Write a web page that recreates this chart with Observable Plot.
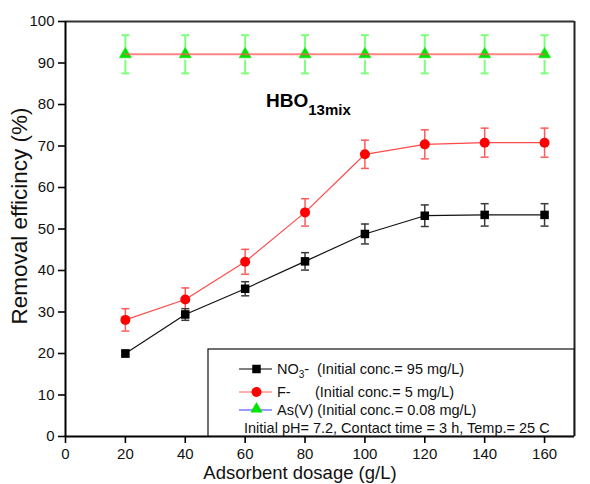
<!DOCTYPE html>
<html>
<head>
<meta charset="utf-8">
<script src="https://cdn.jsdelivr.net/npm/d3@7"></script>
<script src="https://cdn.jsdelivr.net/npm/@observablehq/plot@0.6"></script>
<style>
  html, body { margin: 0; padding: 0; background: #fff; }
  #chart { position: relative; width: 590px; height: 484px; }
  svg { font-family: "Liberation Sans", Arial, sans-serif; }
</style>
</head>
<body>
<div id="chart"></div>
<script>
// Adsorbent dosage (g/L)
const dosage = [20, 40, 60, 80, 100, 120, 140, 160];
// Removal efficiency (%) and standard deviation for each ion
const nitrate = [20.0, 29.4, 35.6, 42.2, 48.8, 53.2, 53.4, 53.4];
const nitrateErr = [0.8, 1.4, 1.7, 2.1, 2.4, 2.6, 2.7, 2.7];
const fluoride = [28.1, 33.0, 42.1, 54.0, 68.0, 70.4, 70.8, 70.8];
const fluorideErr = [2.7, 2.8, 3.0, 3.3, 3.4, 3.5, 3.5, 3.5];
const arsenic = [92.1, 92.1, 92.1, 92.1, 92.1, 92.1, 92.1, 92.1];
const arsenicErr = [4.6, 4.6, 4.6, 4.6, 4.6, 4.6, 4.6, 4.6];

const xTicks = [0, 20, 40, 60, 80, 100, 120, 140, 160];
const yTicks = [0, 10, 20, 30, 40, 50, 60, 70, 80, 90, 100];

const rows = (vals, errs) => dosage.map((x, i) => ({x, y: vals[i], lo: vals[i] - errs[i], hi: vals[i] + errs[i]}));
const no3 = rows(nitrate, nitrateErr);
const fl = rows(fluoride, fluorideErr);
const as = rows(arsenic, arsenicErr);

// horizontal cap for error bars
const cap = {draw(ctx) { ctx.moveTo(-4, 0); ctx.lineTo(4, 0); }};

// error bar drawn as two whiskers, optionally leaving a gap around the marker
function errorBars(data, color, width, gap = 0) {
  return [
    Plot.ruleX(data, {x: "x", y1: "hi", y2: "y", stroke: color, strokeWidth: width, insetBottom: gap}),
    Plot.ruleX(data, {x: "x", y1: "y", y2: "lo", stroke: color, strokeWidth: width, insetTop: gap}),
    Plot.dot(data, {x: "x", y: "hi", symbol: cap, stroke: color, strokeWidth: width, fill: "none"}),
    Plot.dot(data, {x: "x", y: "lo", symbol: cap, stroke: color, strokeWidth: width, fill: "none"})
  ];
}

const chart = Plot.plot({
  width: 590,
  height: 484,
  marginLeft: 65,
  marginRight: 16,
  marginTop: 21,
  marginBottom: 48,
  style: {fontFamily: "Liberation Sans, Arial, sans-serif", background: "#fff"},
  x: {domain: [0, 170]},
  y: {domain: [0, 100]},
  marks: [
    // As(V)
    ...errorBars(as, "#7dff7d", 2, 6),
    Plot.dot(as, {x: "x", y: "y", symbol: "triangle", r: 4.5, fill: "#00e600", stroke: "#00e600", strokeWidth: 0.5}),
    Plot.line(as, {x: "x", y: "y", stroke: "#ff5c5c", strokeWidth: 2, strokeOpacity: 0.75}),
    // F-
    ...errorBars(fl, "#ff5a5a", 1.5),
    Plot.line(fl, {x: "x", y: "y", stroke: "#ff4a4a", strokeWidth: 1.2}),
    Plot.dot(fl, {x: "x", y: "y", r: 5, fill: "#ff0000"}),
    // NO3-
    ...errorBars(no3, "#3a3a3a", 1.5),
    Plot.line(no3, {x: "x", y: "y", stroke: "#111", strokeWidth: 1.2}),
    Plot.dot(no3, {x: "x", y: "y", symbol: "square", r: 4.8, fill: "#000"}),
    // frame
    Plot.ruleY([100], {stroke: "#333", strokeWidth: 2}),
    Plot.ruleX([170], {stroke: "#222", strokeWidth: 2}),
    Plot.ruleY([0], {stroke: "#000", strokeWidth: 2}),
    Plot.ruleX([0], {stroke: "#000", strokeWidth: 2}),
    Plot.axisX({ticks: xTicks, tickSize: 7, tickPadding: 5, strokeWidth: 1.6, fontSize: 15, label: null, fill: "#111"}),
    Plot.axisY({ticks: yTicks, tickSize: 7, tickPadding: 4, strokeWidth: 1.6, fontSize: 15, label: null, fill: "#111"})
  ]
});

document.getElementById("chart").appendChild(chart);

const svg = d3.select(chart);

// axis titles
svg.append("text")
  .attr("x", 300).attr("y", 479)
  .attr("text-anchor", "middle")
  .attr("font-size", 18.5).attr("fill", "#111")
  .text("Adsorbent dosage (g/L)");
svg.append("text")
  .attr("transform", "translate(27,216) rotate(-90)")
  .attr("text-anchor", "middle")
  .attr("font-size", 22.5).attr("fill", "#111")
  .text("Removal efficincy (%)");

// material label
const title = svg.append("text").attr("x", 266).attr("y", 107)
  .attr("text-anchor", "start").attr("font-weight", "bold").attr("fill", "#000");
title.append("tspan").attr("font-size", 19).text("HBO");
title.append("tspan").attr("font-size", 15).attr("dy", 8).text("13mix");

// legend box
const lg = svg.append("g").attr("font-size", 14.5).attr("fill", "#111").attr("text-anchor", "start");
lg.append("rect").attr("x", 208).attr("y", 349).attr("width", 366).attr("height", 87)
  .attr("fill", "#fff").attr("stroke", "#111").attr("stroke-width", 1.2);

const sx1 = 239, sx2 = 272, sc = 256.5;
// NO3-
lg.append("line").attr("x1", sx1).attr("x2", sx2).attr("y1", 369).attr("y2", 369).attr("stroke", "#000");
lg.append("path").attr("d", d3.symbol(d3.symbolSquare, Math.PI * 4.8 * 4.8)()).attr("transform", `translate(${sc},369)`).attr("fill", "#000");
const t1 = lg.append("text").attr("x", 277).attr("y", 374);
t1.append("tspan").text("NO");
t1.append("tspan").attr("font-size", 10).attr("dy", 4).text("3");
t1.append("tspan").attr("dy", -4).text("-");
lg.append("text").attr("x", 317).attr("y", 374).text("(Initial conc.= 95 mg/L)");
// F-
lg.append("line").attr("x1", sx1).attr("x2", sx2).attr("y1", 392).attr("y2", 392).attr("stroke", "#ff5a5a");
lg.append("circle").attr("cx", sc).attr("cy", 392).attr("r", 5).attr("fill", "#ff0000");
lg.append("text").attr("x", 277).attr("y", 397).text("F-");
lg.append("text").attr("x", 315).attr("y", 397).text("(Initial conc.= 5 mg/L)");
// As(V)
lg.append("line").attr("x1", sx1).attr("x2", sx2).attr("y1", 410).attr("y2", 410).attr("stroke", "#7a7aff").attr("stroke-width", 1.5);
lg.append("path").attr("d", d3.symbol(d3.symbolTriangle, Math.PI * 4.5 * 4.5)()).attr("transform", `translate(${sc},409)`).attr("fill", "#00e600");
lg.append("text").attr("x", 277).attr("y", 415).text("As(V) (Initial conc.= 0.08 mg/L)");
// conditions
lg.append("text").attr("x", 244).attr("y", 433).text("Initial pH= 7.2, Contact time = 3 h, Temp.= 25 C");
</script>
</body>
</html>
